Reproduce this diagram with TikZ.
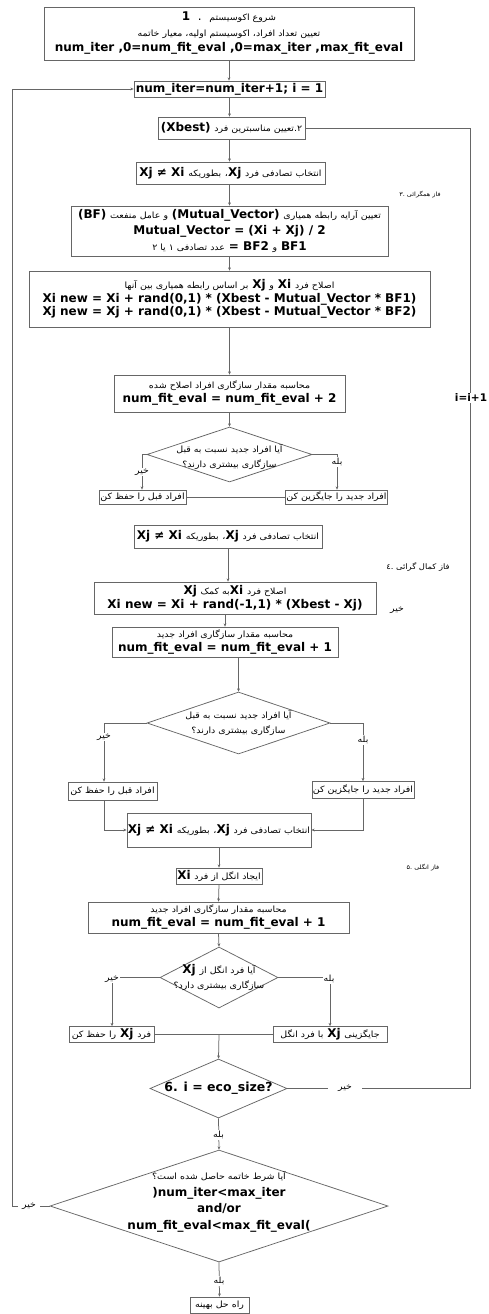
\documentclass[tikz,border=0pt]{standalone}
\usepackage{fontspec}
\setmainfont{DejaVu Sans}
\newfontfamily\fafont[Script=Arabic, FakeStretch=1.1]{DejaVu Sans}
\TeXXeTstate=1
\usetikzlibrary{shapes.geometric,arrows.meta}
\newcommand\pfa[1]{{\fafont\fontsize{8.6}{14}\selectfont\beginR #1\endR}}
\newcommand\plab[1]{{\fafont\fontsize{8.5}{14}\selectfont\beginR #1\endR}}
\newcommand\psmall[1]{{\fafont\fontsize{5.9}{8}\selectfont\beginR #1\endR}}
\newcommand\pmid[1]{{\fafont\fontsize{7.6}{10}\selectfont\beginR #1\endR}}
\newcommand\pla[1]{{\bfseries #1}}
\begin{document}
\begin{tikzpicture}[x=1pt,y=-1pt,
  box/.style={draw=black!60, line width=0.75pt, fill=white, inner sep=1pt, align=center, font=\fontsize{12}{14}\selectfont},
  dia/.style={diamond, draw=black!60, line width=0.75pt, inner sep=0pt},
  dtxt/.style={align=center, inner sep=0pt, font=\fontsize{12}{15}\selectfont},
  lab/.style={fill=white, inner sep=1pt, font=\fontsize{9}{10}\selectfont},
  phase/.style={inner sep=0pt, font=\fontsize{8}{10}\selectfont},
  ln/.style={draw=black!60, line width=0.75pt},
  arr/.style={ln, -{Stealth[length=3.2pt,width=2.8pt]}}]
\useasboundingbox (0,0) rectangle (488,1314);
\fill[white] (0,0) rectangle (488,1314);

% boxes
\node[box, minimum width=370, minimum height=53, font=\fontsize{12}{15.5}\selectfont] (top) at (229,33.5)
  {\pla{1}\ \ .\ \ \pfa{شروع اکوسیستم}\\ \pfa{تعیین تعداد افراد، اکوسیستم اولیه، معیار خاتمه}\\ \pla{num\_iter ,0=num\_fit\_eval ,0=max\_iter ,max\_fit\_eval}};
\node[box, minimum width=191, minimum height=16] (it) at (229.5,89) {\pla{num\_iter=num\_iter+1; i = 1}};
\node[box, minimum width=147, minimum height=22] (best) at (231.5,128) {\pla{(Xbest)} \pfa{۲.تعیین مناسبترین فرد}};
\node[box, minimum width=189, minimum height=22] (xj1) at (230.5,173) {\pla{Xj ≠ Xi} \pfa{بطوریکه} \pfa{،}\pla{Xj} \pfa{انتخاب تصادفی فرد}};
\node[phase] (ph3) at (420,195) {\psmall{فاز همگرائی .۳}};
\node[box, minimum width=317, minimum height=50, font=\fontsize{12}{16}\selectfont] (mv) at (229.5,231)
  {\pla{(BF)} \pfa{و عامل منفعت} \pla{(Mutual\_Vector)} \pfa{تعیین آرایه رابطه همیاری}\\ \pla{Mutual\_Vector = (Xi + Xj) / 2}\\ \pfa{عدد تصادفی ۱ یا ۲} \pla{= BF2} \pfa{و} \pla{BF1}};
\node[box, minimum width=401, minimum height=56, font=\fontsize{12}{13.5}\selectfont] (upd) at (229.5,299)
  {\pfa{بر اساس رابطه همیاری بین آنها} \pla{Xj} \pfa{و} \pla{Xi} \pfa{اصلاح فرد}\\ \pla{Xi new = Xi + rand(0,1) * (Xbest - Mutual\_Vector * BF1)}\\ \pla{Xj new = Xj + rand(0,1) * (Xbest - Mutual\_Vector * BF2)}};
\node[box, minimum width=231, minimum height=37] (fit1) at (229.5,393.5)
  {\pfa{محاسبه مقدار سازگاری افراد اصلاح شده}\\ \pla{num\_fit\_eval = num\_fit\_eval + 2}};
\node[dia, minimum width=165, minimum height=55] (d1) at (229.5,454.5) {};
\node[dtxt] (d1t) at (229.5,457) {\pfa{آیا افراد جدید نسبت به قبل}\\ \pfa{سازگاری بیشتری دارند؟}};
\node[box, minimum width=87, minimum height=14] (keep1) at (142.5,497) {\pfa{افراد قبل را حفظ کن}};
\node[box, minimum width=101, minimum height=14] (repl1) at (336.5,497) {\pfa{افراد جدید را جایگزین کن}};
\node[box, minimum width=188, minimum height=23] (xj2) at (228,536.5) {\pla{Xj ≠ Xi} \pfa{بطوریکه} \pfa{،}\pla{Xj} \pfa{انتخاب تصادفی فرد}};
\node[phase] (ph4) at (418,567) {\pmid{فاز کمال گرائی .٤}};
\node[box, minimum width=282, minimum height=32] (comm) at (235,598)
  {\pla{Xj} \pfa{به کمک}\pla{Xi} \pfa{اصلاح فرد}\\ \pla{Xi new = Xi + rand(-1,1) * (Xbest - Xj)}};
\node[phase] (stray) at (397,610) {\plab{خیر}};
\node[box, minimum width=226, minimum height=30] (fit2) at (225,642)
  {\pfa{محاسبه مقدار سازگاری افراد جدید}\\ \pla{num\_fit\_eval = num\_fit\_eval + 1}};
\node[dia, minimum width=183, minimum height=62] (d2) at (238.5,723) {};
\node[dtxt] (d2t) at (238.5,723) {\pfa{آیا افراد جدید نسبت به قبل}\\ \pfa{سازگاری بیشتری دارند؟}};
\node[box, minimum width=89, minimum height=18] (keep2) at (112.5,791) {\pfa{افراد قبل را حفظ کن}};
\node[box, minimum width=102, minimum height=17] (repl2) at (363,790) {\pfa{افراد جدید را جایگزین کن}};
\node[box, minimum width=184, minimum height=34] (xj3) at (219,830) {\pla{Xj ≠ Xi} \pfa{بطوریکه} \pfa{،}\pla{Xj} \pfa{انتخاب تصادفی فرد}};
\node[phase] (ph5) at (423,868) {\psmall{فاز انگلی .۵}};
\node[box, minimum width=86, minimum height=16] (par) at (219,876) {\pla{Xi} \pfa{ایجاد انگل از فرد}};
\node[box, minimum width=261, minimum height=31] (fit3) at (218.5,917.5)
  {\pfa{محاسبه مقدار سازگاری افراد جدید}\\ \pla{num\_fit\_eval = num\_fit\_eval + 1}};
\node[dia, minimum width=118, minimum height=61] (d3) at (219,977.5) {};
\node[dtxt] (d3t) at (219,977) {\pla{Xj} \pfa{آیا فرد انگل از}\\ \pfa{سازگاری بیشتری دارد؟}};
\node[box, minimum width=85, minimum height=16] (keep3) at (111.5,1034.5) {\pfa{را حفظ کن} \pla{Xj} \pfa{فرد}};
\node[box, minimum width=114, minimum height=16] (repl3) at (330,1034.5) {\pfa{با فرد انگل} \pla{Xj} \pfa{جایگزینی}};
\node[dia, minimum width=137, minimum height=59] (d4) at (218.5,1088.5) {};
\node[dtxt, font=\fontsize{12.5}{15}\selectfont] (d4t) at (218.5,1088.5) {\pla{6. i = eco\_size?}};
\node[dia, minimum width=338, minimum height=112] (d5) at (219,1206) {};
\node[dtxt, font=\fontsize{12}{16.5}\selectfont] (d5t) at (219,1202)
  {\pfa{آیا شرط خاتمه حاصل شده است؟}\\ \pla{)num\_iter<max\_iter}\\ \pla{and/or}\\ \pla{num\_fit\_eval<max\_fit\_eval(}};
\node[box, minimum width=59, minimum height=16] (fin) at (219.5,1305) {\pfa{راه حل بهینه}};

% corner coordinates
\coordinate (c1l) at (142,454.5);
\coordinate (c1r) at (337,454.5);
\coordinate (c2l) at (104,723);
\coordinate (c2r) at (363,723);
\coordinate (c3l) at (112,977.5);
\coordinate (c3r) at (330,977.5);
\coordinate (j3) at (219,1034.5);
\coordinate (rc) at (470,1088.5);
\coordinate (rt) at (470,128);
\coordinate (lc) at (12,1206);

% connectors
\draw[arr] (top.south) -- (top.south |- it.north);
\draw[arr] (it.south) -- (it.south |- best.north);
\draw[arr] (it.south |- best.south) -- (it.south |- xj1.north);
\draw[arr] (mv.north |- xj1.south) -- (mv.north);
\draw[arr] (mv.south) -- (upd.north);
\draw[arr] (upd.south) -- (fit1.north);
\draw[arr] (fit1.south) -- (d1.north);
\draw[arr] (d1.west) -- (c1l) -- (c1l |- keep1.north);
\draw[arr] (d1.east) -- (c1r) -- (c1r |- repl1.north);
\draw[ln] (keep1.east) -- (repl1.west);
\draw[arr] (xj2.south) -- (xj2.south |- comm.north);
\draw[arr] (comm.south -| fit2.north) -- (fit2.north);
\draw[arr] (fit2.south -| d2.north) -- (d2.north);
\draw[arr] (d2.west) -- (c2l) -- (c2l |- keep2.north);
\draw[arr] (d2.east) -- (c2r) -- (c2r |- repl2.north);
\draw[arr] (c2l |- keep2.south) -- (c2l |- xj3.west) -- (xj3.west);
\draw[arr] (c2r |- repl2.south) -- (c2r |- xj3.east) -- (xj3.east);
\draw[arr] (xj3.south) -- (par.north);
\draw[arr] (par.south) -- (fit3.north);
\draw[arr] (fit3.south) -- (d3.north);
\draw[arr] (d3.west) -- (c3l) -- (c3l |- keep3.north);
\draw[arr] (d3.east) -- (c3r) -- (c3r |- repl3.north);
\draw[ln] (keep3.east) -- (repl3.west);
\draw[arr] (j3) -- (d4.north);
\draw[ln] (d4.east) -- (rc) -- (rt) -- (best.east);
\draw[arr] (d4.south) -- (d5.north);
\draw[arr] (d5.west) -- (lc) -- (lc |- it.west) -- (it.west);
\draw[arr] (d5.south) -- (fin.north);

% labels on lines
\node[lab] (l1n) at (142,472) {\plab{خیر}};
\node[lab] (l1y) at (337,462) {\plab{بله}};
\node[lab] (l2n) at (104,737) {\plab{خیر}};
\node[lab] (l2y) at (363,740) {\plab{بله}};
\node[lab] (l3n) at (112,979) {\plab{خیر}};
\node[lab] (l3y) at (329,979) {\plab{بله}};
\node[lab, inner xsep=10pt] (l4n) at (345,1088.5) {\plab{خیر}};
\node[lab] (l4y) at (218.5,1135) {\plab{بله}};
\node[lab, inner xsep=4pt] (l5n) at (29,1206) {\plab{خیر}};
\node[lab] (l5y) at (219,1281) {\plab{بله}};
\node[lab, font=\fontsize{10.5}{12}\selectfont\bfseries] (inc) at (471,398) {i=i+1};
\end{tikzpicture}
\end{document}
